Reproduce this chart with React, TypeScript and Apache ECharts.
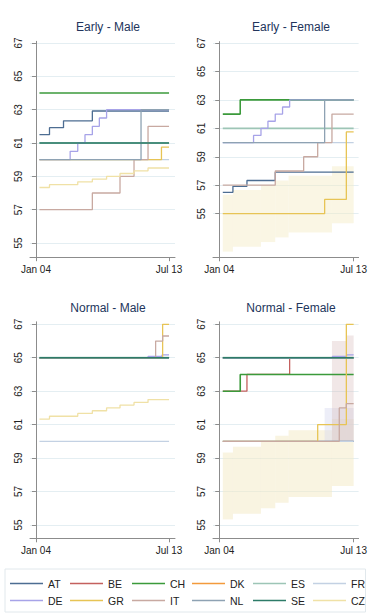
import React, { useEffect, useRef } from "react";
import * as echarts from "echarts";

// ---------- data (month index: 0 = Jan 2004, 114 = Jul 2013) ----------
const COUNTRIES = ["AT", "BE", "CH", "DK", "ES", "FR", "DE", "GR", "IT", "NL", "SE", "CZ"];
const PANEL_TITLES = ["Early - Male", "Early - Female", "Normal - Male", "Normal - Female"];
const X_TICKS = [0, 114];
const X_TICK_LABELS = ["Jan 04", "Jul 13"];
const Y_TICKS = [55, 57, 59, 61, 63, 65, 67];

// Early - Male
const EM_AT = [[3, 61.5], [11.6, 61.92], [23.6, 62.33], [48.3, 62.92], [114, 62.92]];
const EM_CH = [[3, 64], [114, 64]];
const EM_ES = [[3, 61], [114, 61]];
const EM_FR = [[3, 60], [114, 60]];
const EM_DE = [[3, 60], [29.3, 60.5], [35.8, 61], [42, 61.5], [48.3, 62], [54.3, 62.5], [60.5, 63], [114, 63]];
const EM_GR = [[3, 60], [107.5, 60.75], [114, 60.75]];
const EM_IT = [[3, 57], [48.3, 58], [72, 59], [84, 60], [96, 62], [114, 62]];
const EM_NL = [[3, 60], [90, 63], [114, 63]];
const EM_SE = [[3, 61], [114, 61]];
const EM_CZ = [[3, 58.33], [11.6, 58.5], [35.8, 58.67], [48.3, 58.83], [60.5, 59], [72, 59.17], [84, 59.33], [96, 59.5], [114, 59.5]];

// Early - Female
const EF_AT = [[3, 56.5], [11.6, 56.92], [23.5, 57.33], [47.5, 57.92], [114, 57.92]];
const EF_CH = [[3, 62], [17.8, 63], [114, 63]];
const EF_ES = [[3, 61], [114, 61]];
const EF_FR = [[3, 60], [114, 60]];
const EF_DE = [[3, 60], [29.1, 60.5], [35.4, 61], [41.3, 61.5], [47.5, 62], [53.7, 62.5], [59.7, 63], [114, 63]];
const EF_GR = [[3, 55], [89.4, 56], [107.8, 60.75], [114, 60.75]];
const EF_IT = [[3, 57], [47.5, 58], [71.6, 59], [83.5, 60], [95.6, 62], [114, 62]];
const EF_NL = [[3, 60], [89.4, 63], [114, 63]];
const EF_CZ_LOW = [[3, 52.33], [11.6, 52.67], [35.4, 53], [47.5, 53.33], [58.8, 53.67], [95.6, 54.33], [114, 54.33]];
const EF_CZ_HIGH = [[3, 56.33], [11.6, 56.67], [35.4, 57], [47.5, 57.33], [58.8, 57.67], [95.6, 58.33], [114, 58.33]];

// Normal - Male
const NM_AT = [[3, 65], [114, 65]];
const NM_BE = [[3, 65], [114, 65]];
const NM_CH = [[3, 65], [114, 65]];
const NM_DK = [[3, 65], [114, 65]];
const NM_ES = [[3, 65], [114, 65]];
const NM_FR = [[3, 60], [114, 60]];
const NM_DE = [[3, 65], [96, 65.08], [108, 65.17], [114, 65.17]];
const NM_GR = [[3, 65], [108.5, 67], [114, 67]];
const NM_IT = [[3, 65], [102.5, 66], [108.5, 66.3], [114, 66.3]];
const NM_NL = [[3, 65], [114, 65]];
const NM_SE = [[3, 65], [114, 65]];
const NM_CZ = [[3, 61.33], [11.6, 61.5], [35.8, 61.67], [48.3, 61.83], [60.5, 62], [72, 62.17], [84, 62.33], [96, 62.5], [114, 62.5]];

// Normal - Female
const NF_AT = [[3, 60], [114, 60]];
const NF_BE = [[3, 63], [23.5, 64], [59.7, 65], [114, 65]];
const NF_CH = [[3, 63], [17.8, 64], [114, 64]];
const NF_DK = [[3, 65], [114, 65]];
const NF_ES = [[3, 65], [114, 65]];
const NF_FR = [[3, 60], [114, 60]];
const NF_DE = [[3, 65], [96, 65.08], [108, 65.17], [114, 65.17]];
const NF_GR = [[3, 60], [83.5, 61], [107.8, 67], [114, 67]];
const NF_IT = [[3, 60], [101.8, 62], [107.8, 62.25], [114, 62.25]];
const NF_NL = [[3, 65], [114, 65]];
const NF_SE = [[3, 65], [114, 65]];
const NF_CZ_LOW = [[3, 55.33], [11.6, 55.67], [35.4, 56], [47.5, 56.33], [58.8, 56.67], [95.6, 57.33], [114, 57.33]];
const NF_CZ_HIGH = [[3, 59.33], [11.6, 59.67], [35.4, 60], [47.5, 60.33], [58.8, 60.67], [95.6, 61.33], [114, 61.33]];
const NF_FR_LOW = [[89.4, 60], [114, 60]];
const NF_FR_HIGH = [[89.4, 62], [114, 62]];
const NF_IT_LOW = [[95.6, 60], [107.8, 60], [114, 60]];
const NF_IT_HIGH = [[95.6, 66], [107.8, 66.33], [114, 66.33]];

// ---------- styling ----------
const COLORS: Record<string, string> = {
  AT: "#4d6d92",
  BE: "#c4605e",
  CH: "#3b9a3b",
  DK: "#f39a3c",
  ES: "#9dc5b6",
  FR: "#c3d1e3",
  DE: "#a7a3e8",
  GR: "#e7c455",
  IT: "#c8a9a1",
  NL: "#8ea2b3",
  SE: "#2d7b68",
  CZ: "#f0e1a6",
};
const WIDTHS: Record<string, number> = { CH: 1.6, SE: 1.6, ES: 1.9 };
const FONT = "Liberation Sans, Arial, sans-serif";

const PANELS = [
  { lines: { AT: EM_AT, CH: EM_CH, ES: EM_ES, FR: EM_FR, DE: EM_DE, GR: EM_GR, IT: EM_IT, NL: EM_NL, SE: EM_SE, CZ: EM_CZ }, bands: [] as any[] },
  { lines: { AT: EF_AT, CH: EF_CH, ES: EF_ES, FR: EF_FR, DE: EF_DE, GR: EF_GR, IT: EF_IT, NL: EF_NL }, bands: [{ key: "CZ", low: EF_CZ_LOW, high: EF_CZ_HIGH, color: "rgba(244,234,196,0.45)" }] },
  { lines: { AT: NM_AT, BE: NM_BE, CH: NM_CH, DK: NM_DK, ES: NM_ES, FR: NM_FR, DE: NM_DE, GR: NM_GR, IT: NM_IT, NL: NM_NL, SE: NM_SE, CZ: NM_CZ }, bands: [] },
  {
    lines: { AT: NF_AT, BE: NF_BE, CH: NF_CH, DK: NF_DK, ES: NF_ES, FR: NF_FR, DE: NF_DE, GR: NF_GR, IT: NF_IT, NL: NF_NL, SE: NF_SE },
    bands: [
      { key: "CZ", low: NF_CZ_LOW, high: NF_CZ_HIGH, color: "rgba(244,234,196,0.5)" },
      { key: "FR", low: NF_FR_LOW, high: NF_FR_HIGH, color: "rgba(214,218,240,0.45)" },
      { key: "IT", low: NF_IT_LOW, high: NF_IT_HIGH, color: "rgba(214,186,186,0.35)" },
    ],
  },
];

// grid geometry
const GRIDS = [
  { left: 30, top: 41.3, width: 145, height: 215.9, xmin: -5.1, xmax: 119.1, ymin: 54.15, ymax: 67.1, tx: 103, ty: 16 },
  { left: 213, top: 41.6, width: 145.6, height: 215.7, xmin: -5.3, xmax: 118.2, ymin: 51.93, ymax: 67.1, tx: 286, ty: 16 },
  { left: 30, top: 321.8, width: 145, height: 216.5, xmin: -5.1, xmax: 119.1, ymin: 54.2, ymax: 67.15, tx: 103, ty: 297 },
  { left: 213, top: 321.8, width: 145.6, height: 216.5, xmin: -5.3, xmax: 118.2, ymin: 54.2, ymax: 67.15, tx: 286, ty: 297 },
];

const LEGEND_COLS = [10, 70, 132, 192, 253, 313];
const LEGEND_ROWS = [578, 595];

function bandSegments(low: number[][], high: number[][]) {
  const segs: number[][] = [];
  for (let k = 0; k < low.length - 1; k++) {
    segs.push([low[k][0], low[k + 1][0], low[k][1], high[k][1]]);
  }
  return segs;
}

function buildOption() {
  const series: any[] = [];
  PANELS.forEach((p, i) => {
    p.bands.forEach((b: any) => {
      series.push({
        type: "custom",
        name: `${b.key} range`,
        xAxisIndex: i,
        yAxisIndex: i,
        silent: true,
        z: 1,
        data: bandSegments(b.low, b.high),
        encode: { x: [0, 1], y: [2, 3] },
        renderItem: (params: any, api: any) => {
          const tl = api.coord([api.value(0), api.value(3)]);
          const br = api.coord([api.value(1), api.value(2)]);
          return {
            type: "rect",
            shape: { x: tl[0], y: tl[1], width: br[0] - tl[0], height: br[1] - tl[1] },
            style: { fill: b.color },
          };
        },
      });
    });
    COUNTRIES.forEach((c) => {
      const d = (p.lines as any)[c];
      if (!d) return;
      series.push({
        type: "line", name: c, xAxisIndex: i, yAxisIndex: i, data: d,
        step: "end", symbol: "none", showSymbol: false, silent: true, z: 3,
        lineStyle: { color: COLORS[c], width: WIDTHS[c] ?? 1.3 },
        itemStyle: { color: COLORS[c] },
      });
    });
  });

  const legends = COUNTRIES.map((c, k) => ({
    data: [c],
    left: LEGEND_COLS[k % 6],
    top: LEGEND_ROWS[Math.floor(k / 6)],
    icon: "rect",
    itemWidth: 33,
    itemHeight: 1.5,
    itemGap: 0,
    padding: 0,
    selectedMode: false,
    textStyle: { fontSize: 10.5, color: "#222", fontFamily: FONT },
  }));

  return {
    animation: false,
    backgroundColor: "#ffffff",
    textStyle: { fontFamily: FONT },
    title: GRIDS.map((g, i) => ({
      text: PANEL_TITLES[i], left: g.tx, top: g.ty, textAlign: "center",
      textStyle: { fontSize: 12, fontWeight: "normal", color: "#22355c", fontFamily: FONT },
    })),
    legend: legends,
    graphic: [
      { type: "rect", shape: { x: 5, y: 569, width: 360.5, height: 43 }, style: { fill: "#fff", stroke: "#e1e8ec", lineWidth: 1 }, z: -1 },
    ],
    grid: GRIDS.map((g) => ({ left: g.left, top: g.top, width: g.width, height: g.height, containLabel: false, outerBoundsMode: "none" })),
    xAxis: GRIDS.map((g, i) => ({
      type: "value", gridIndex: i, min: g.xmin, max: g.xmax,
      axisLine: { show: true, lineStyle: { color: "#8c8c8c", width: 1 } },
      axisTick: { show: true, length: 4, customValues: X_TICKS, lineStyle: { color: "#8c8c8c" } },
      axisLabel: {
        customValues: X_TICKS, margin: 7, fontSize: 10, color: "#222", fontFamily: FONT,
        formatter: (v: number) => X_TICK_LABELS[X_TICKS.indexOf(Math.round(v))] ?? "",
      },
      splitLine: { show: false },
    })),
    yAxis: GRIDS.map((g, i) => ({
      type: "value", gridIndex: i, min: g.ymin, max: g.ymax,
      axisLine: { show: true, lineStyle: { color: "#8c8c8c", width: 1 } },
      axisTick: { show: true, length: 4, customValues: Y_TICKS, lineStyle: { color: "#8c8c8c" } },
      axisLabel: {
        customValues: Y_TICKS, rotate: 90, margin: 7, fontSize: 10, color: "#222", fontFamily: FONT,
        formatter: (v: number) => String(Math.round(v)),
      },
      splitLine: { show: true, lineStyle: { color: "#e4eef2", width: 1 } },
    })),
    series,
  };
}

export default function App() {
  const ref = useRef<HTMLDivElement | null>(null);
  useEffect(() => {
    if (!ref.current) return;
    const chart = echarts.init(ref.current, null, { renderer: "svg", width: 374, height: 614 });
    chart.setOption(buildOption() as any);
    return () => chart.dispose();
  }, []);
  return (
    <div
      ref={ref}
      style={{ position: "absolute", left: 0, top: 0, width: 374, height: 614, background: "#fff" }}
    />
  );
}
